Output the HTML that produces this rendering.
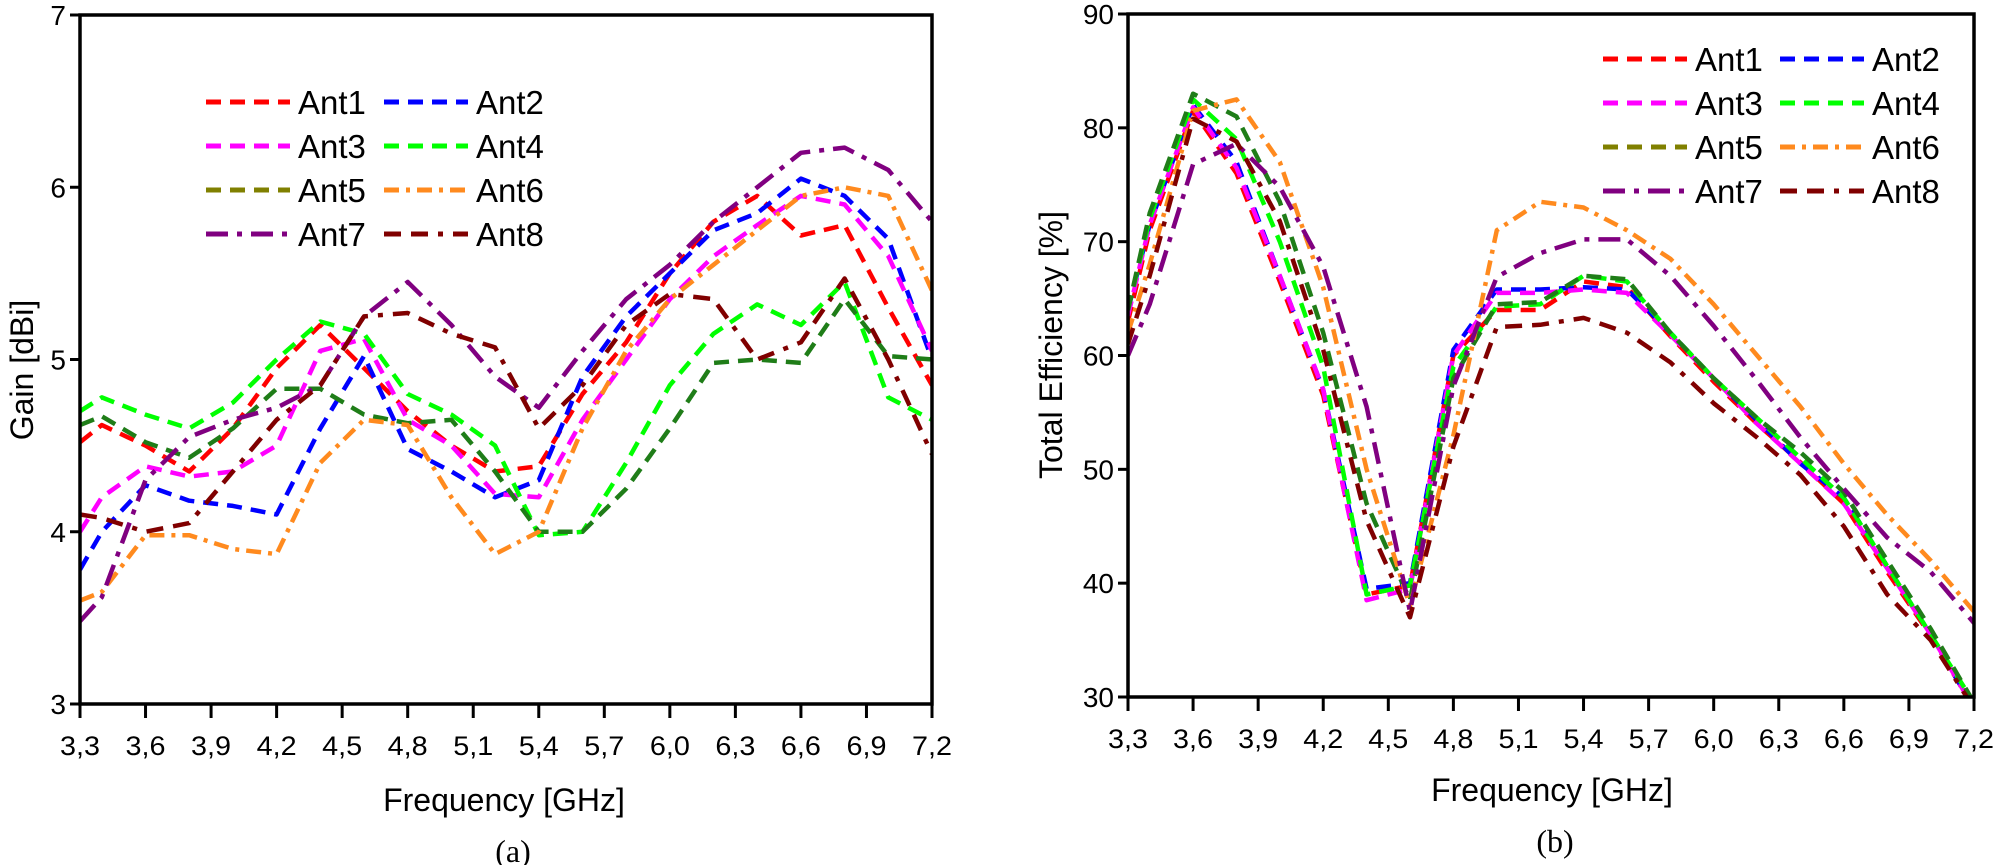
<!DOCTYPE html>
<html><head><meta charset="utf-8">
<style>
html,body{margin:0;padding:0;background:#fff;}
svg{display:block;}
text{font-family:"Liberation Sans",Arial,sans-serif;fill:#000;}
</style></head>
<body>
<svg id="fig" width="2000" height="865" viewBox="0 0 2000 865" xmlns="http://www.w3.org/2000/svg"></svg>
<script>
const freq = [3.3,3.4,3.6,3.8,4.0,4.2,4.4,4.6,4.8,5.0,5.2,5.4,5.6,5.8,6.0,6.2,6.4,6.6,6.8,7.0,7.2];
const xTicks = ["3,3","3,6","3,9","4,2","4,5","4,8","5,1","5,4","5,7","6,0","6,3","6,6","6,9","7,2"];
const xTickVals = [3.3,3.6,3.9,4.2,4.5,4.8,5.1,5.4,5.7,6.0,6.3,6.6,6.9,7.2];
const names = ["Ant1","Ant2","Ant3","Ant4","Ant5","Ant6","Ant7","Ant8"];
const gainTicks = [3,4,5,6,7];
const effTicks = [30,40,50,60,70,80,90];

// Gain [dBi]
const gain1 = [4.52,4.62,4.5,4.35,4.6,4.95,5.2,4.95,4.7,4.5,4.35,4.38,4.8,5.1,5.5,5.8,5.95,5.72,5.78,5.3,4.85];
const gain2 = [3.78,4.0,4.27,4.18,4.15,4.1,4.6,5.02,4.48,4.35,4.2,4.3,4.9,5.25,5.5,5.75,5.85,6.05,5.95,5.7,5.0];
const gain3 = [4.0,4.2,4.38,4.32,4.35,4.5,5.05,5.12,4.65,4.5,4.22,4.2,4.65,5.0,5.35,5.6,5.78,5.95,5.9,5.6,5.05];
const gain4 = [4.7,4.78,4.68,4.6,4.75,5.0,5.22,5.15,4.8,4.68,4.5,3.98,4.0,4.4,4.85,5.15,5.32,5.2,5.45,4.78,4.65];
const gain5 = [4.62,4.67,4.52,4.43,4.6,4.83,4.83,4.68,4.63,4.65,4.35,4.0,4.0,4.25,4.6,4.98,5.0,4.98,5.35,5.02,5.0];
const gain6 = [3.6,3.65,3.98,3.98,3.9,3.87,4.4,4.65,4.62,4.2,3.87,4.0,4.6,5.05,5.35,5.55,5.75,5.95,6.0,5.95,5.4];
const gain7 = [3.48,3.62,4.3,4.55,4.65,4.72,4.85,5.25,5.45,5.2,4.9,4.72,5.05,5.35,5.55,5.8,6.0,6.2,6.23,6.1,5.8];
const gain8 = [4.1,4.08,4.0,4.05,4.35,4.65,4.85,5.25,5.27,5.15,5.07,4.6,4.85,5.2,5.38,5.35,5.0,5.1,5.47,5.0,4.45];

// Total efficiency [%]
const eff1 = [63,71,81.5,76,66.5,56.5,39,39.8,60,64,64,66.5,66,61.7,57.7,54,50.6,47,41,35.4,29];
const eff2 = [64,71.5,82,77,67,57,39.5,40,60.5,65.8,65.8,66,65.8,62,58,54.3,50.5,47.5,41.5,35.5,29];
const eff3 = [63.5,71.5,81.8,76.5,67,57,38.5,39.5,60,65.5,65.5,65.8,65.5,61.8,58,54,50.5,47,41.3,35.5,29];
const eff4 = [64,72,82.5,79,70,59,39,39.8,59,64.3,64.5,67,66.5,62,58,54.5,51,47.5,41.5,35.5,29.5];
const eff5 = [64,72.5,83,81,73.5,62,47,38.5,58,64.5,64.7,67,66.7,62,58,54.5,51.5,48,42,36,29.5];
const eff6 = [62,68,81.5,82.5,77,66,50,38,53,71,73.5,73,71,68.5,64.5,60,55.5,50.5,46,42,37.5];
const eff7 = [60,64.5,76.8,78.6,74.8,67.8,55.5,37.5,57.3,66.9,69,70.2,70.2,67,62.6,57.8,52.8,48.3,44,41,36.5];
const eff8 = [61,67,80.8,78.8,71.8,60.5,45.5,37,52,62.5,62.7,63.3,62,59.4,55.8,52.8,49.5,45,39,35,29];

const gainSeries = [gain1,gain2,gain3,gain4,gain5,gain6,gain7,gain8];
const effSeries = [eff1,eff2,eff3,eff4,eff5,eff6,eff7,eff8];

const lineColors = ["#ff0000","#0000ff","#ff00ff","#00ff00","#1f7d18","#ff8a1e","#800080","#800000"];
const legendColors = ["#ff0000","#0000ff","#ff00ff","#00ff00","#808000","#ff8a1e","#800080","#800000"];
const dashes = ["15,9","15,9","15,9","15,9","15,9","15,7,4,7","22,9,5,9","17,10,17,10,5,10"];

const NS = "http://www.w3.org/2000/svg";
const svg = document.getElementById("fig");
function el(tag, attrs, parent, txt){
  const e = document.createElementNS(NS, tag);
  for (const k in attrs) e.setAttribute(k, attrs[k]);
  if (txt !== undefined) e.textContent = txt;
  (parent || svg).appendChild(e);
  return e;
}

function chart(cfg){
  const g = el("g", {}, svg);
  
  
  const xs = v => cfg.x0 + (v - 3.3) / (7.2 - 3.3) * (cfg.x1 - cfg.x0);
  const ys = v => cfg.yb - (v - cfg.ymin) / (cfg.ymax - cfg.ymin) * (cfg.yb - cfg.yt);

  const clipId = cfg.id + "-clip";
  const defs = el("defs", {}, g);
  const cp = el("clipPath", {id: clipId}, defs);
  el("rect", {x: cfg.x0, y: cfg.yt, width: cfg.x1 - cfg.x0, height: cfg.yb - cfg.yt}, cp);

  // series
  const sg = el("g", {"clip-path": "url(#" + clipId + ")"}, g);
  cfg.series.forEach((arr, i) => {
    const d = arr.map((v, j) => (j ? "L" : "M") + xs(freq[j]).toFixed(1) + " " + ys(v).toFixed(1)).join(" ");
    const p = el("path", {d: d, fill: "none", stroke: lineColors[i], "stroke-width": 4.5, "stroke-dasharray": dashes[i], "stroke-linejoin": "round"}, sg);
    
    
  });

  // frame
  const fr = el("rect", {x: cfg.x0, y: cfg.yt, width: cfg.x1 - cfg.x0, height: cfg.yb - cfg.yt, fill: "none", stroke: "#000", "stroke-width": 3.5}, g);
  
  

  // x ticks
  xTickVals.forEach((v, i) => {
    const x = xs(v);
    el("line", {x1: x, x2: x, y1: cfg.yb, y2: cfg.yb + 14, stroke: "#000", "stroke-width": 3}, g);
    const t = el("text", {x: x, y: cfg.yb + 51, "font-size": 27, "text-anchor": "middle", textLength: 40, lengthAdjust: "spacingAndGlyphs"}, g, xTicks[i]);
    
    
  });
  // y ticks
  cfg.yTicks.forEach(v => {
    const y = ys(v);
    el("line", {x1: cfg.x0 - 10, x2: cfg.x0, y1: y, y2: y, stroke: "#000", "stroke-width": 3}, g);
    const t = el("text", {x: cfg.x0 - 14, y: y + 10, "font-size": 28, "text-anchor": "end"}, g, String(v));
    
    
  });

  // axis titles
  const xt = el("text", {x: cfg.xTitleX, y: cfg.xTitleY, "font-size": 32, "text-anchor": "middle"}, g, "Frequency [GHz]");
  
  
  const yt = el("text", {x: 0, y: 0, "font-size": 32, "text-anchor": "middle", transform: "translate(" + cfg.yTitleX + "," + cfg.yTitleY + ") rotate(-90)"}, g, cfg.yTitle);
  
  
  const cap = el("text", {x: cfg.capX, y: cfg.capY, "font-size": 32, "text-anchor": "middle", style: "font-family:'Liberation Serif',serif"}, g, cfg.caption);
  
  

  // legend
  const lg = el("g", {}, g);
  
  
  names.forEach((n, i) => {
    const col = i % 2, row = Math.floor(i / 2);
    const lx = cfg.legX + col * cfg.legColW, ly = cfg.legY + row * 44;
    const e = el("g", {}, lg);
    
    
    el("line", {x1: lx, x2: lx + 84, y1: ly, y2: ly, stroke: legendColors[i], "stroke-width": 5, "stroke-dasharray": dashes[i]}, e);
    el("text", {x: lx + 92, y: ly + 12, "font-size": 33}, e, n);
  });
}

chart({id: "gain-chart", x0: 80, x1: 932, yt: 15, yb: 704, ymin: 3, ymax: 7, yTicks: gainTicks,
  series: gainSeries, yTitle: "Gain [dBi]", yTitleX: 33, yTitleY: 370,
  xTitleX: 504, xTitleY: 811, caption: "(a)", capX: 513, capY: 862,
  legX: 206, legY: 102, legColW: 178});

chart({id: "efficiency-chart", x0: 1128, x1: 1974, yt: 14, yb: 697, ymin: 30, ymax: 90, yTicks: effTicks,
  series: effSeries, yTitle: "Total Efficiency [%]", yTitleX: 1062, yTitleY: 345,
  xTitleX: 1552, xTitleY: 801, caption: "(b)", capX: 1555, capY: 852,
  legX: 1603, legY: 59, legColW: 177});
</script>
</body></html>
